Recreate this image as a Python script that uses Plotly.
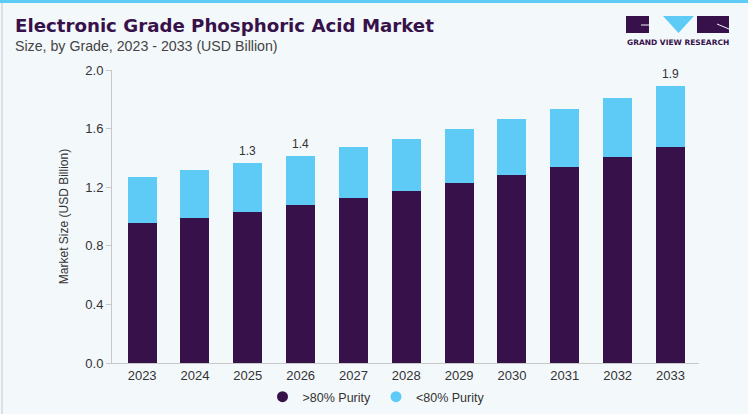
import plotly.graph_objects as go

W, H = 748, 414

years = ['2023', '2024', '2025', '2026', '2027', '2028', '2029', '2030', '2031', '2032', '2033']
above_80 = [0.954, 0.992, 1.033, 1.076, 1.124, 1.172, 1.226, 1.281, 1.340, 1.408, 1.474]
below_80 = [0.314, 0.323, 0.330, 0.339, 0.348, 0.359, 0.369, 0.382, 0.391, 0.403, 0.417]
label_years = ['2025', '2026', '2033']
label_texts = ['1.3', '1.4', '1.9']
y_ticks = [0.0, 0.4, 0.8, 1.2, 1.6, 2.0]

dark = '#37114a'
light = '#5dcbf5'
bg = '#f3f8fb'
font_main = 'Liberation Sans'

# plot area in pixels
L, R, T, B = 112, 49, 70, 51


def px(x):
    return (x - L) / (W - L - R)


def py(y):
    return (H - B - y) / (H - T - B)


fig = go.Figure()
fig.add_trace(go.Bar(x=years, y=above_80, marker_color=dark, name='>80% Purity',
                     showlegend=False, marker_line_width=0))
fig.add_trace(go.Bar(x=years, y=below_80, marker_color=light, name='<80% Purity',
                     showlegend=False, marker_line_width=0))

# legend with round markers
for name, col in [('>80% Purity', dark), ('<80% Purity', light)]:
    fig.add_trace(go.Scatter(x=[None], y=[None], mode='markers', name=name,
                             marker=dict(color=col, size=11, symbol='circle')))

totals = [a + b for a, b in zip(above_80, below_80)]
for yr, txt in zip(label_years, label_texts):
    i = years.index(yr)  # category axis -> annotations use the index
    fig.add_annotation(x=i, y=totals[i], text=txt, showarrow=False,
                       yanchor='bottom', yshift=3,
                       font=dict(size=12, color='#333333', family=font_main))

# title / subtitle
fig.add_annotation(x=px(13), y=py(26), xref='paper', yref='paper', xanchor='left', yanchor='middle',
                   text='<b>Electronic Grade Phosphoric Acid Market</b>', showarrow=False,
                   font=dict(size=18.2, color='#37114a', family='DejaVu Sans'))
fig.add_annotation(x=px(13), y=py(46), xref='paper', yref='paper', xanchor='left', yanchor='middle',
                   text='Size, by Grade, 2023 - 2033 (USD Billion)', showarrow=False,
                   font=dict(size=14.2, color='#444444', family=font_main))

# frame: top blue strip, light border
shapes = [
    dict(type='rect', xref='paper', yref='paper', x0=px(0), x1=px(W), y0=py(3), y1=py(0),
         fillcolor='#5dcbf5', line_width=0),
    dict(type='line', xref='paper', yref='paper', x0=px(2), x1=px(2), y0=py(3), y1=py(H),
         line=dict(color='#d5d9dc', width=1.5)),
    # logo
    dict(type='rect', xref='paper', yref='paper', x0=px(626), x1=px(649), y0=py(33), y1=py(16),
         fillcolor=dark, line_width=0),
    dict(type='path', xref='paper', yref='paper',
         path=f'M {px(663)} {py(16)} L {px(694)} {py(16)} L {px(678.5)} {py(33)} Z',
         fillcolor=light, line_width=0),
    dict(type='rect', xref='paper', yref='paper', x0=px(697), x1=px(729), y0=py(33), y1=py(16),
         fillcolor=dark, line_width=0),
    dict(type='line', xref='paper', yref='paper', x0=px(641), x1=px(649), y0=py(25), y1=py(25),
         line=dict(color=bg, width=1)),
    dict(type='line', xref='paper', yref='paper', x0=px(717), x1=px(729), y0=py(24), y1=py(29),
         line=dict(color=bg, width=1)),
]
fig.add_annotation(x=px(677.5), y=py(43), xref='paper', yref='paper', xanchor='center', yanchor='middle',
                   text='<b>GRAND VIEW RESEARCH</b>', showarrow=False,
                   font=dict(size=7.5, color='#37114a', family='DejaVu Sans'))

fig.update_layout(
    width=W, height=H,
    barmode='stack', bargap=0.45,
    paper_bgcolor=bg, plot_bgcolor=bg,
    margin=dict(l=L, r=R, t=T, b=B, autoexpand=False),
    shapes=shapes,
    font=dict(family=font_main, color='#333333'),
    legend=dict(orientation='h', xref='container', x=376 / W, xanchor='center', traceorder='normal',
                yref='container', y=1 - 397 / H, yanchor='middle', itemwidth=30,
                font=dict(size=12.5, color='#333333'), bgcolor='rgba(0,0,0,0)'),
    xaxis=dict(type='category', range=[-0.57, 10.54], showline=True, linecolor='#c8c8c8',
               linewidth=1, ticks='', tickfont=dict(size=13, color='#333333'), showgrid=False,
               automargin=False),
    yaxis=dict(range=[0, 2.0], tickvals=y_ticks, tickformat='.1f', showline=True,
               linecolor='#c8c8c8', linewidth=1, ticks='outside', ticklen=5, tickcolor='#c8c8c8',
               tickfont=dict(size=13, color='#333333'), showgrid=False, zeroline=False,
               automargin=False,
               title=dict(text='Market Size (USD Billion)', font=dict(size=12, color='#333333'),
                          standoff=14)),
)

page_js = ("document.body.style.margin='0';document.body.style.overflow='hidden';"
           f"document.body.style.background='{bg}';"
           f"document.documentElement.style.background='{bg}';")
fig.write_html('out.html', config={'displayModeBar': False}, post_script=page_js)
